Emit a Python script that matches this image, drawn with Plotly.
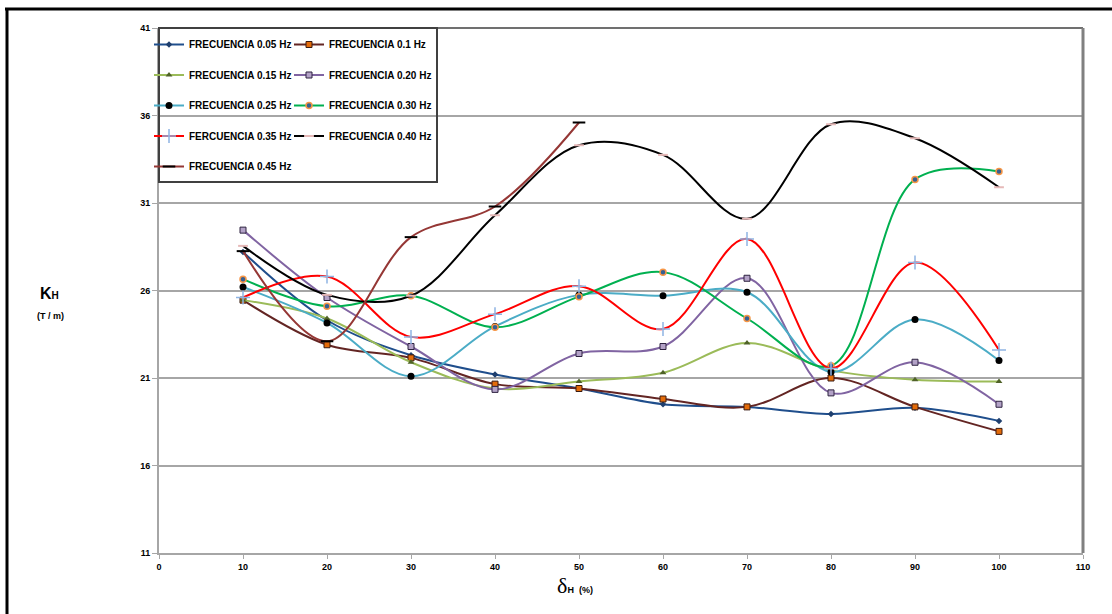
import plotly.graph_objects as go

x_vals = [10, 20, 30, 40, 50, 60, 70, 80, 90, 100]
x_045 = [10, 20, 30, 40, 50]

f005 = [28.2, 24.3, 22.3, 21.2, 20.4, 19.5, 19.35, 18.95, 19.3, 18.55]
f010 = [25.45, 22.9, 22.15, 20.65, 20.4, 19.8, 19.35, 21.0, 19.35, 17.95]
f015 = [25.45, 24.4, 21.9, 20.4, 20.8, 21.3, 23.0, 21.45, 20.9, 20.8]
f020 = [29.45, 25.6, 22.8, 20.35, 22.4, 22.8, 26.7, 20.15, 21.9, 19.5]
f025 = [26.2, 24.15, 21.1, 23.95, 25.75, 25.7, 25.9, 21.35, 24.35, 22.0]
f030 = [26.65, 25.1, 25.7, 23.9, 25.65, 27.05, 24.4, 21.7, 32.35, 32.8]
f035 = [25.6, 26.8, 23.35, 24.65, 26.25, 23.8, 28.95, 21.55, 27.6, 22.6]
f040 = [28.55, 25.75, 25.7, 30.3, 34.3, 33.75, 30.1, 35.5, 34.7, 31.9]
f045 = [28.25, 23.1, 29.05, 30.8, 35.6]

names = ["FRECUENCIA 0.05 Hz", "FRECUENCIA 0.1 Hz", "FRECUENCIA 0.15 Hz",
         "FRECUENCIA 0.20 Hz", "FRECUENCIA 0.25 Hz", "FRECUENCIA 0.30 Hz",
         "FERCUENCIA 0.35 Hz", "FRECUENCIA 0.40 Hz", "FRECUENCIA 0.45 Hz"]

y_ticks = [11, 16, 21, 26, 31, 36, 41]
x_ticks = [0, 10, 20, 30, 40, 50, 60, 70, 80, 90, 100, 110]

styles = [
    dict(line="#1F4E8C", marker=dict(symbol="diamond", size=5, color="#1F3F6E")),
    dict(line="#632523", marker=dict(symbol="square", size=6, color="#E46C0A", line=dict(color="#3A1A10", width=1))),
    dict(line="#9BBB59", marker=dict(symbol="triangle-up", size=6, color="#4F6228")),
    dict(line="#8064A2", marker=dict(symbol="square", size=6, color="#B3A2C7", line=dict(color="#2E2340", width=1))),
    dict(line="#4BACC6", marker=dict(symbol="circle", size=7, color="#000000")),
    dict(line="#00B050", marker=dict(symbol="circle", size=6, color="#376092", line=dict(color="#F79646", width=1.5))),
    dict(line="#FF0000", marker=dict(symbol="cross-thin", size=10, line=dict(color="#8EB4E3", width=1.5))),
    dict(line="#000000", marker=dict(symbol="line-ew", size=7, line=dict(color="#E6B9B8", width=2))),
    dict(line="#953735", marker=dict(symbol="line-ew", size=9, line=dict(color="#000000", width=2))),
]

series = [(x_vals, f005), (x_vals, f010), (x_vals, f015), (x_vals, f020), (x_vals, f025),
          (x_vals, f030), (x_vals, f035), (x_vals, f040), (x_045, f045)]

fig = go.Figure()
for i, ((xs, ys), nm, st) in enumerate(zip(series, names, styles)):
    fig.add_trace(go.Scatter(
        x=xs, y=ys, name=nm, mode="lines+markers",
        line=dict(color=st["line"], width=2, shape="spline", smoothing=1),
        marker=st["marker"],
        legend="legend" if i % 2 == 0 else "legend2",
        legendgroup=nm,
    ))

W, H = 1112, 614
L, R, T, B = 159, 1083, 28, 553

def px(xp):
    return (xp - L) / (R - L)

def py(yp):
    return (B - yp) / (B - T)

leg_font = dict(family="Liberation Sans", size=10, color="#000000", weight="bold")

fig.update_layout(
    width=W, height=H,
    margin=dict(l=L, r=W - R, t=T, b=H - B),
    paper_bgcolor="white", plot_bgcolor="white",
    font=dict(family="Liberation Sans", size=9, color="#000000"),
    legend=dict(x=px(149), y=py(30), xanchor="left", yanchor="top",
                bgcolor="rgba(0,0,0,0)", borderwidth=0, font=leg_font,
                tracegroupgap=11.5, itemwidth=30),
    legend2=dict(x=px(289), y=py(30), xanchor="left", yanchor="top",
                 bgcolor="rgba(0,0,0,0)", borderwidth=0, font=leg_font,
                 tracegroupgap=11.5, itemwidth=30),
    xaxis=dict(range=[0, 110], tickvals=x_ticks, ticktext=[str(v) for v in x_ticks],
               showgrid=False, zeroline=False, showline=True, linecolor="#A6A6A6", linewidth=2,
               ticks="outside", ticklen=4, tickcolor="#A6A6A6", tickwidth=1,
               tickfont=dict(family="Liberation Sans", size=9, color="#000000", weight="bold")),
    yaxis=dict(range=[11, 41], tickvals=y_ticks, ticktext=[str(v) for v in y_ticks],
               showgrid=True, gridcolor="#A6A6A6", gridwidth=2, zeroline=False,
               showline=True, linecolor="#A6A6A6", linewidth=2,
               ticks="outside", ticklen=5, tickcolor="#A6A6A6", tickwidth=1,
               tickfont=dict(family="Liberation Sans", size=9, color="#000000", weight="bold")),
    showlegend=True,
)

shapes = [
    # plot frame top and right
    dict(type="line", xref="paper", yref="paper", x0=0, x1=1, y0=1, y1=1,
         line=dict(color="#404040", width=1.5)),
    dict(type="line", xref="paper", yref="paper", x0=1, x1=1, y0=0, y1=1,
         line=dict(color="#808080", width=3)),
    # legend box
    dict(type="rect", xref="paper", yref="paper", x0=px(159), x1=px(437), y0=py(182), y1=py(28),
         line=dict(color="#404040", width=2), fillcolor="rgba(0,0,0,0)"),
    # outer black frame
    dict(type="line", xref="paper", yref="paper", x0=px(7), x1=px(7), y0=py(614), y1=py(9),
         line=dict(color="#000000", width=3)),
    dict(type="line", xref="paper", yref="paper", x0=px(5), x1=px(1112), y0=py(9), y1=py(9),
         line=dict(color="#000000", width=3)),
]
fig.update_layout(shapes=shapes)

fig.add_annotation(x=px(38), y=py(293), xref="paper", yref="paper", showarrow=False,
                   text="<b>K<span style='font-size:10px'>H</span></b>",
                   font=dict(family="Liberation Sans", size=16, color="#000000"))
fig.add_annotation(x=px(35), y=py(316), xref="paper", yref="paper", showarrow=False,
                   text="<b>(T / m)</b>",
                   font=dict(family="Liberation Sans", size=9, color="#000000"))
fig.add_annotation(x=px(575), y=py(600), xref="paper", yref="paper", showarrow=False,
                   text="<span style='font-family:Liberation Serif;font-size:22px'>δ</span>"
                        "<b>H</b>  <b>(%)</b>",
                   font=dict(family="Liberation Sans", size=9, color="#000000"))

fig.write_html("out.html")
